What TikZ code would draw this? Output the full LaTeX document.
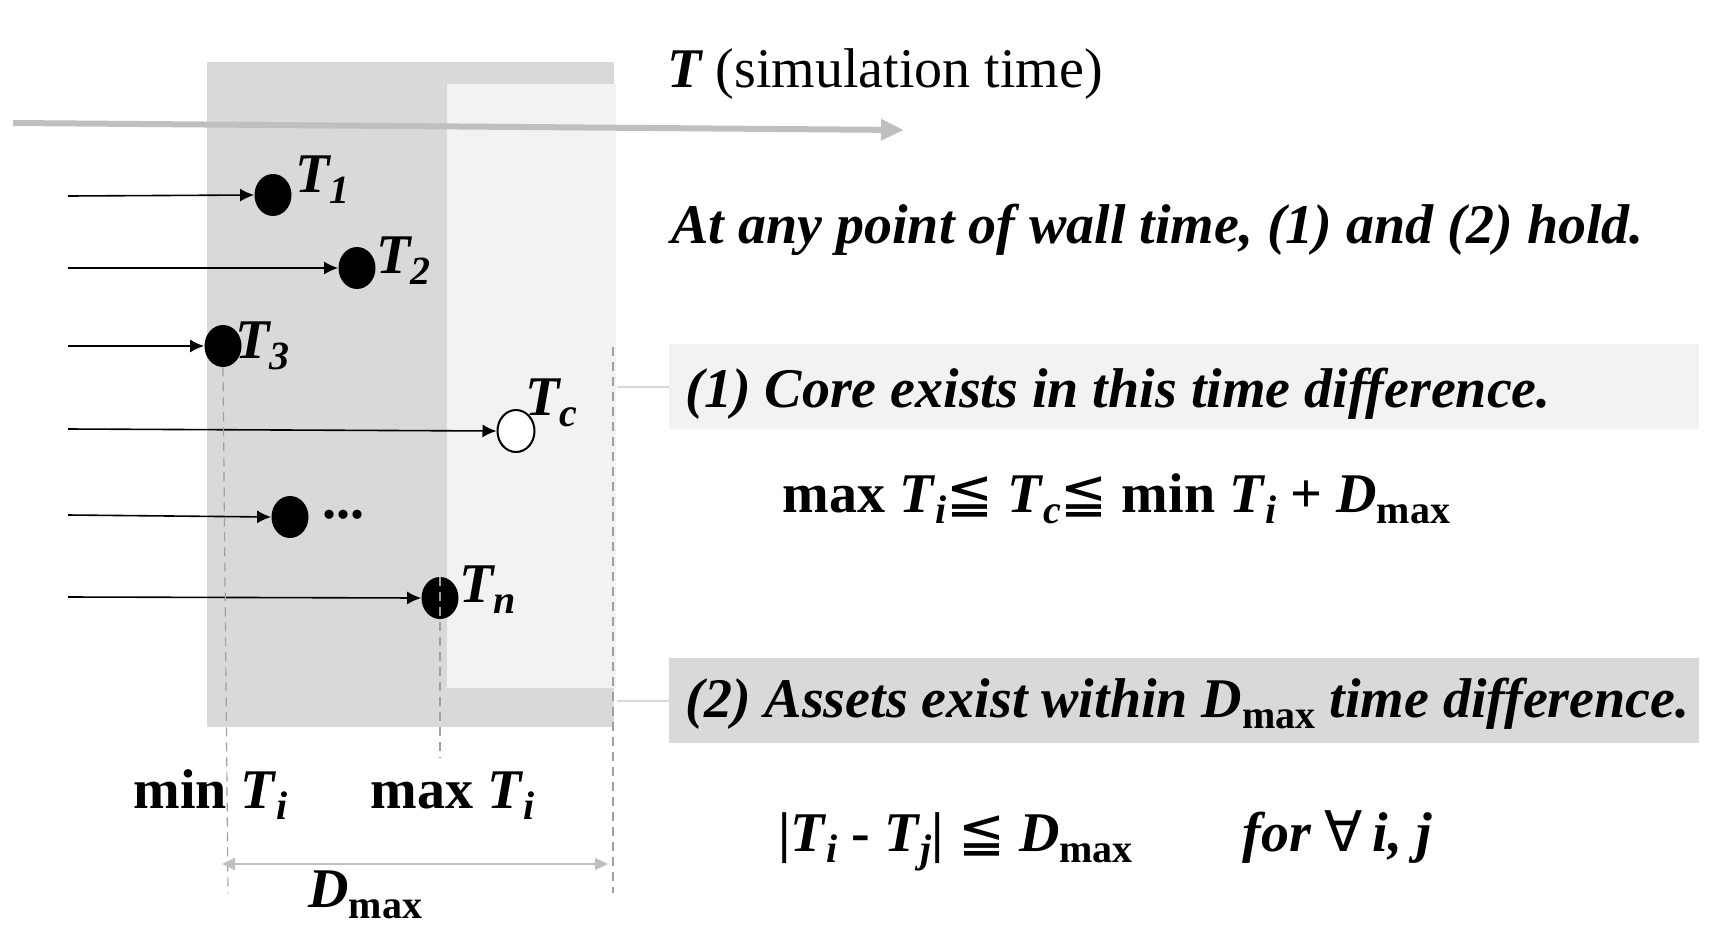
\documentclass[tikz,border=0pt]{standalone}
\usepackage{fontspec}
\setmainfont{Liberation Serif}
\newfontfamily\symfont{DejaVu Sans}
\usetikzlibrary{arrows.meta,shapes.geometric,positioning}
\definecolor{darkbar}{HTML}{D9D9D9}
\definecolor{lightbar}{HTML}{F2F2F2}
\definecolor{axisgray}{HTML}{BFBFBF}
\definecolor{guidegray}{HTML}{A0A0A0}
\newcommand\lo[1]{\raisebox{-5.5pt}{\fontsize{20pt}{20pt}\selectfont #1}}
\newcommand\rel[1]{{\symfont\mdseries\upshape #1}}
\begin{document}
\begin{tikzpicture}[x=0.5pt,y=-0.5pt,>={Latex[length=7pt,width=6.5pt]},
	dot/.style={ellipse,fill=black,minimum width=18.5pt,minimum height=21pt,inner sep=0pt},
	tlabel/.style={anchor=base west,inner sep=0pt,font=\fontsize{28pt}{34pt}\selectfont\bfseries\itshape},
	formula/.style={anchor=base west,inner sep=0pt,font=\fontsize{28pt}{34pt}\selectfont\bfseries\upshape},
	condbox/.style={anchor=north west,inner sep=0pt,minimum width=515pt,minimum height=42.5pt},
	guide/.style={guidegray,line width=0.6pt,dash pattern=on 4.5pt off 3pt},
	link/.style={darkbar,line width=1pt}]
	\useasboundingbox (0,0) rectangle (1736,948);
	% Zeitfenster
	\fill[darkbar] (207,62) rectangle (614,727);
	\fill[lightbar] (447,84) rectangle (616,688);
	% Zeitachse
	\coordinate (axstart) at (13,123);
	\coordinate (axend) at (904,130);
	\draw[axisgray,line width=3pt,-{Triangle[length=11.5pt,width=10pt]}] (axstart) -- (axend);
	\node[tlabel] (title) at (667,87) {T \mdseries\upshape(simulation time)};
	% Punkte
	\node[dot] (t1) at (273,195) {};
	\node[dot] (t2) at (357,268) {};
	\node[dot] (t3) at (223,346) {};
	\node[dot,fill=white,draw=black,line width=1pt] (tc) at (516,431) {};
	\node[dot] (tdots) at (290,517) {};
	\node[dot] (tn) at (440,598) {};
	\node[tlabel] (l1) at (295,192) {T\lo{1}};
	\node[tlabel] (l2) at (376,273) {T\lo{2}};
	\node[tlabel] (l3) at (235,358) {T\lo{3}};
	\node[tlabel] (lc) at (525,415) {T\lo{c}};
	\node[formula] (ld) at (322,518) {...};
	\node[tlabel] (ln) at (459,602) {T\lo{n}};
	\foreach \d/\y in {t1/196,t2/268,t3/346,tc/429,tdots/515,tn/597}{
		\coordinate (s\d) at (68,\y);
		\draw[->,line width=0.8pt] (s\d) -- (\d.west);
	}
	% Hilfslinien
	\coordinate (minfoot) at (228,893);
	\coordinate (maxfoot) at (440,757);
	\coordinate (dtop) at (613,347);
	\coordinate (dfoot) at (613,893);
	\draw[guide] (t3.south) -- (minfoot);
	\draw[guide] (tn.north) -- (maxfoot);
	\draw[guide] (dtop) -- (dfoot);
	\node[formula] (minlab) at (133,808) {min \textit{T}\lo{\textit{i}}};
	\node[formula] (maxlab) at (370,808) {max \textit{T}\lo{\textit{i}}};
	\coordinate (dl) at (222,864);
	\coordinate (dr) at (608,864);
	\draw[axisgray,line width=1pt,{Triangle[length=6.5pt,width=6pt]}-{Triangle[length=6.5pt,width=6pt]}] (dl) -- (dr);
	\node[formula] (dlab) at (308,907) {\textit{D}\lo{max}};
	% Bedingungen
	\node[tlabel] (rule) at (671,243) {At any point of wall time, (1) and (2) hold.};
	\node[condbox,fill=lightbar] (cond1) at (669,344) {};
	\node[condbox,fill=darkbar] (cond2) at (669,658) {};
	\coordinate (c1) at (617,387);
	\coordinate (c2) at (617,701);
	\draw[link] (c1) -- (cond1.west);
	\draw[link] (c2) -- (cond2.west);
	\node[tlabel] (cond1text) at (685,407) {(1) Core exists in this time difference.};
	\node[formula] (ineq1) at (782,512) {max \textit{T}\lo{\textit{i}}\rel{≦} \textit{T}\lo{\textit{c}}\rel{≦} min \textit{T}\lo{\textit{i}} + \textit{D}\lo{max}};
	\node[tlabel] (cond2text) at (685,717) {(2) Assets exist within D\lo{\upshape max} time difference.};
	\node[formula] (ineq2) at (778,851) {|\textit{T}\lo{\textit{i}} - \textit{T}\lo{\textit{j}}| \rel{≦} \textit{D}\lo{max}};
	\node[tlabel] (forall) at (1242,851) {for \rel{∀}\,i, j};
\end{tikzpicture}
\end{document}
